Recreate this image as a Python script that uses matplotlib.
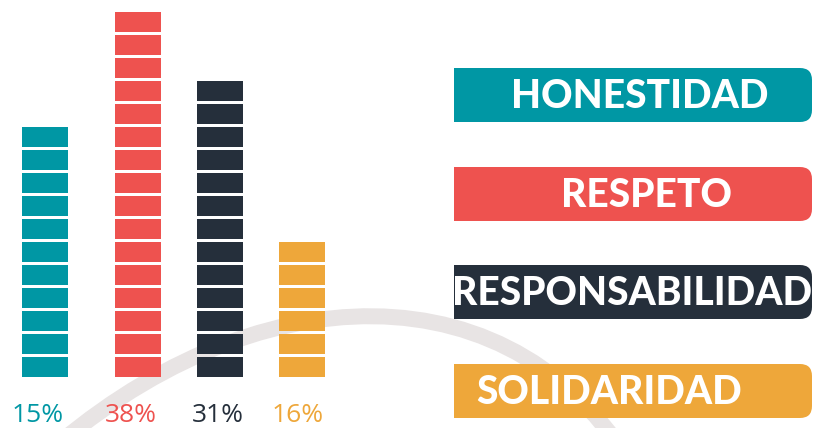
import matplotlib
matplotlib.use("Agg")
import matplotlib.pyplot as plt
from matplotlib.patches import FancyBboxPatch, Rectangle, PathPatch
from matplotlib.path import Path

# datos
valores = ["HONESTIDAD", "RESPETO", "RESPONSABILIDAD", "SOLIDARIDAD"]
porcentajes = [15, 38, 31, 16]
bloques = [11, 16, 13, 6]
colores = ["#0097a4", "#ee524f", "#252f3b", "#eea73a"]

# layout en pixeles (y hacia arriba)
W, H = 815, 428
bar_x = [45, 138, 220, 302]
bar_w = 46
base = H - 376.7
paso = 23.0
alto_bloque = 19.4
pct_x = [38, 131, 218, 298]
caja_top = [68, 167, 265, 364]
caja_h = 54
caja_x0, caja_x1 = 454, 812
texto_x = [640, 647, 632, 609]

fig = plt.figure(figsize=(W / 100, H / 100), dpi=100)
ax = fig.add_axes([0, 0, 1, 1])
ax.set_xlim(0, W)
ax.set_ylim(0, H)
ax.axis("off")

# arco gris de fondo
pts = [(40, 460), (250, 270), (520, 260), (640, 480)]
pts = [(x, H - y) for x, y in pts]
arco = Path(pts, [Path.MOVETO, Path.CURVE4, Path.CURVE4, Path.CURVE4])
ax.add_patch(PathPatch(arco, fill=False, edgecolor="#e8e4e4", lw=11.5, zorder=0,
                       capstyle="butt"))

# barras de bloques
for i in range(len(valores)):
    for j in range(bloques[i]):
        ax.bar(bar_x[i], alto_bloque, width=bar_w, bottom=base + j * paso,
               color=colores[i], edgecolor="none", zorder=2)
    ax.text(pct_x[i], H - 422, f"{porcentajes[i]}%", color=colores[i],
            fontsize=19, family="Open Sans", ha="center", va="baseline", zorder=3)

# etiquetas
for i in range(len(valores)):
    y0 = H - caja_top[i] - caja_h
    ax.add_patch(FancyBboxPatch((caja_x0, y0), caja_x1 - caja_x0, caja_h,
                                boxstyle="round,pad=0,rounding_size=12",
                                facecolor=colores[i], edgecolor="none", zorder=2))
    ax.add_patch(Rectangle((caja_x0, y0), 100, caja_h, facecolor=colores[i],
                           edgecolor="none", zorder=2))
    ax.text(texto_x[i], H - caja_top[i] - 40, valores[i], color="white",
            fontsize=28, family="Lato", fontweight="black", ha="center",
            va="baseline", zorder=3)

fig.savefig("out.png", dpi=100)
